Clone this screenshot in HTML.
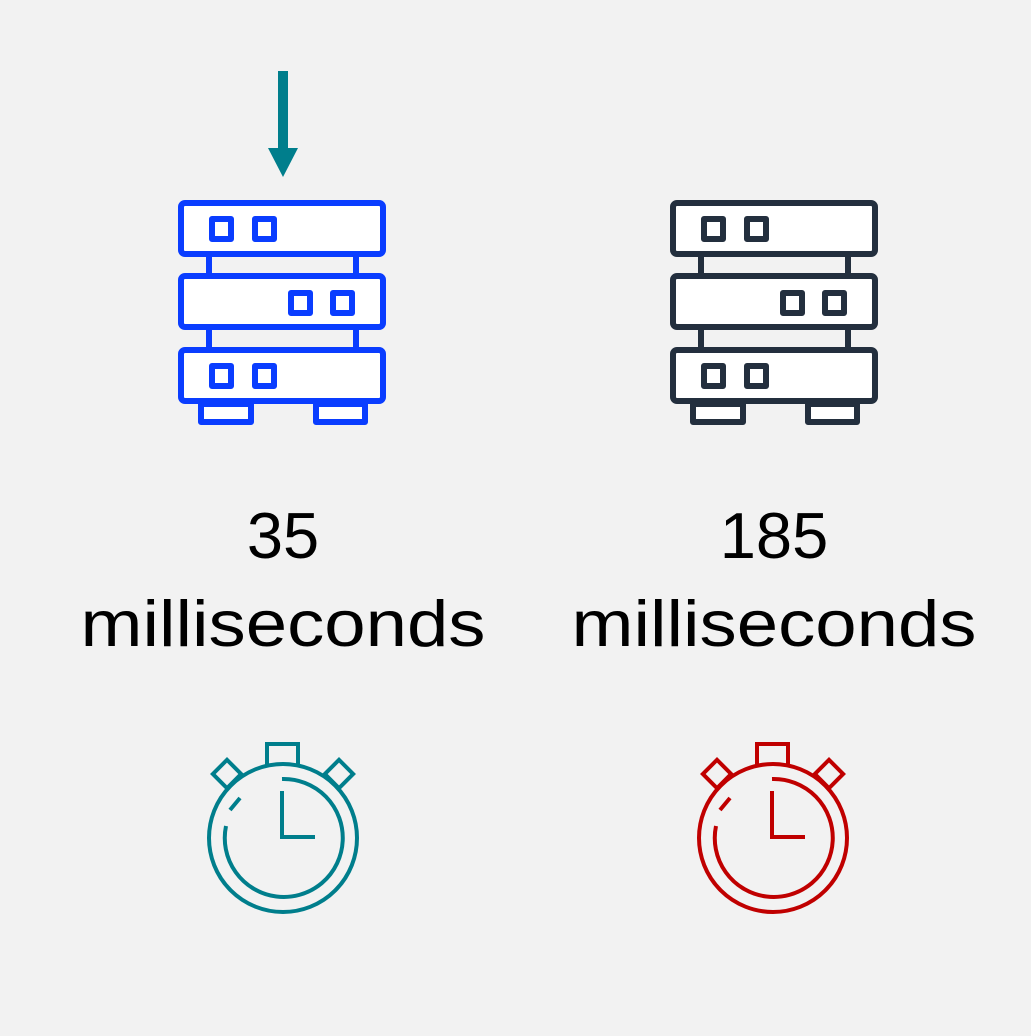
<!DOCTYPE html>
<html><head><meta charset="utf-8"><style>html,body{margin:0;padding:0;background:#f2f2f2}</style></head>
<body>
<svg width="1031" height="1031" viewBox="0 0 1031 1031" xmlns="http://www.w3.org/2000/svg">
<rect width="1031" height="1031" fill="#f2f2f2"/>
<defs>
<g id="srv" fill="#fff" stroke-width="6" stroke-linejoin="round">
  <line x1="209" y1="257" x2="209" y2="273"/><line x1="356" y1="257" x2="356" y2="273"/>
  <line x1="209" y1="330" x2="209" y2="347"/><line x1="356" y1="330" x2="356" y2="347"/>
  <rect x="181" y="203" width="202" height="51" rx="4"/>
  <rect x="181" y="276" width="202" height="51" rx="4"/>
  <rect x="181" y="350" width="202" height="51" rx="4"/>
  <rect x="201" y="404" width="50" height="18"/>
  <rect x="316" y="404" width="49" height="18"/>
  <rect x="212" y="219" width="19" height="20"/><rect x="255" y="219" width="19" height="20"/>
  <rect x="291" y="293" width="19" height="20"/><rect x="333" y="293" width="19" height="20"/>
  <rect x="212" y="366" width="19" height="20"/><rect x="255" y="366" width="19" height="20"/>
</g>
<g id="sw" fill="none" stroke-width="4">
  <rect x="267" y="744" width="31" height="22"/>
  <rect x="-10" y="-10" width="20" height="20" transform="translate(227,774) rotate(45)"/>
  <rect x="-10" y="-10" width="20" height="20" transform="translate(339,774) rotate(45)"/>
  <circle cx="283" cy="838" r="74" fill="#f2f2f2"/>
  <path d="M282 779 A59 59 0 1 1 226 826"/>
  <line x1="230" y1="810" x2="240" y2="798"/>
  <polyline points="282,791 282,837 315,837"/>
</g>
</defs>
<polygon points="278,71 288,71 288,148 298,148 283,177 268,148 278,148" fill="#007e8c"/>
<use href="#srv" stroke="#0a3dff"/>
<use href="#srv" stroke="#232f3e" transform="translate(492,0)"/>
<g font-family="Liberation Sans, sans-serif" font-size="65" fill="#000" text-anchor="middle">
<text x="283" y="558">35</text>
<text x="283" y="646" textLength="405" lengthAdjust="spacingAndGlyphs">milliseconds</text>
<text x="774" y="558">185</text>
<text x="774" y="646" textLength="405" lengthAdjust="spacingAndGlyphs">milliseconds</text>
</g>
<use href="#sw" stroke="#007e8c"/>
<use href="#sw" stroke="#c00000" transform="translate(490,0)"/>
</svg>
</body></html>
